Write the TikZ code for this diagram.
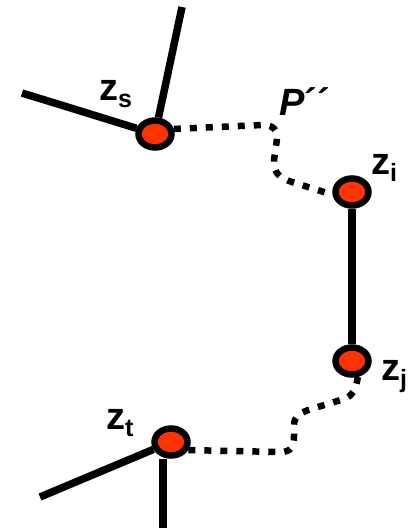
\documentclass[tikz,border=0pt]{standalone}
\usepackage{fontspec}
\setmainfont{Liberation Sans}
\usetikzlibrary{shapes.geometric}
\definecolor{vertexred}{HTML}{FF3300}
\newcommand{\vlab}[2]{#1\raisebox{-7pt}{\fontsize{25}{25}\selectfont #2}}

\begin{document}
\begin{tikzpicture}[
  x=1pt,
  y=-1pt,
  every node/.style={font=\fontsize{38}{38}\selectfont\bfseries},
  vertex/.style={ellipse, draw=black, fill=vertexred, line width=6.5pt,
    minimum width=33pt, minimum height=27pt, inner sep=0pt},
  edge/.style={black, line width=7.5pt},
  walk/.style={black, line width=6.5pt, dash pattern=on 7pt off 9pt},
  lab/.style={anchor=base west, inner sep=0pt}
]
\useasboundingbox (0,0) rectangle (410,528);

% =====================================================================
% vertices and loose edge ends
% =====================================================================
\node[vertex] (zs) at (155,134) {};
\node[vertex] (zi) at (352,192) {};
\node[vertex] (zj) at (352,361) {};
\node[vertex] (zt) at (171,442) {};

\coordinate (stop)  at (182,7);
\coordinate (sleft) at (22,93);
\coordinate (tleft) at (40,497);
\coordinate (tbot)  at (163,528);

% =====================================================================
% edges
% =====================================================================
\draw[edge] (zs) -- (stop);
\draw[edge] (zs) -- (sleft);
\draw[edge] (zi) -- (zj);
\draw[edge] (zt) -- (tleft);
\draw[edge] (tbot) -- (tbot |- zt.south);

% dotted walks
\draw[walk] (zs.15) -- (262,125) .. controls (278,125) and (278,134) .. (276,146)
  -- (274,160) .. controls (273,173) and (280,178) .. (292,182) -- (zi.188);
\draw[walk] (zt.-25) -- (280,452) .. controls (292,452) and (294,446) .. (294,436)
  -- (294,426) .. controls (294,416) and (299,414) .. (308,410)
  -- (344,399) .. controls (352,396) and (356,390) .. (zj.-70);

% =====================================================================
% labels
% =====================================================================
\node[lab] (ls) at (99,100) {\vlab{z}{s}};
\node[lab] (lp) at (279,115) {\textit{P}´´};
\node[lab] (li) at (371,174) {\vlab{z}{i}};
\node[lab] (lj) at (381,380) {\vlab{z}{j}};
\node[lab] (lt) at (106,429) {\vlab{z}{t}};

\end{tikzpicture}
\end{document}
